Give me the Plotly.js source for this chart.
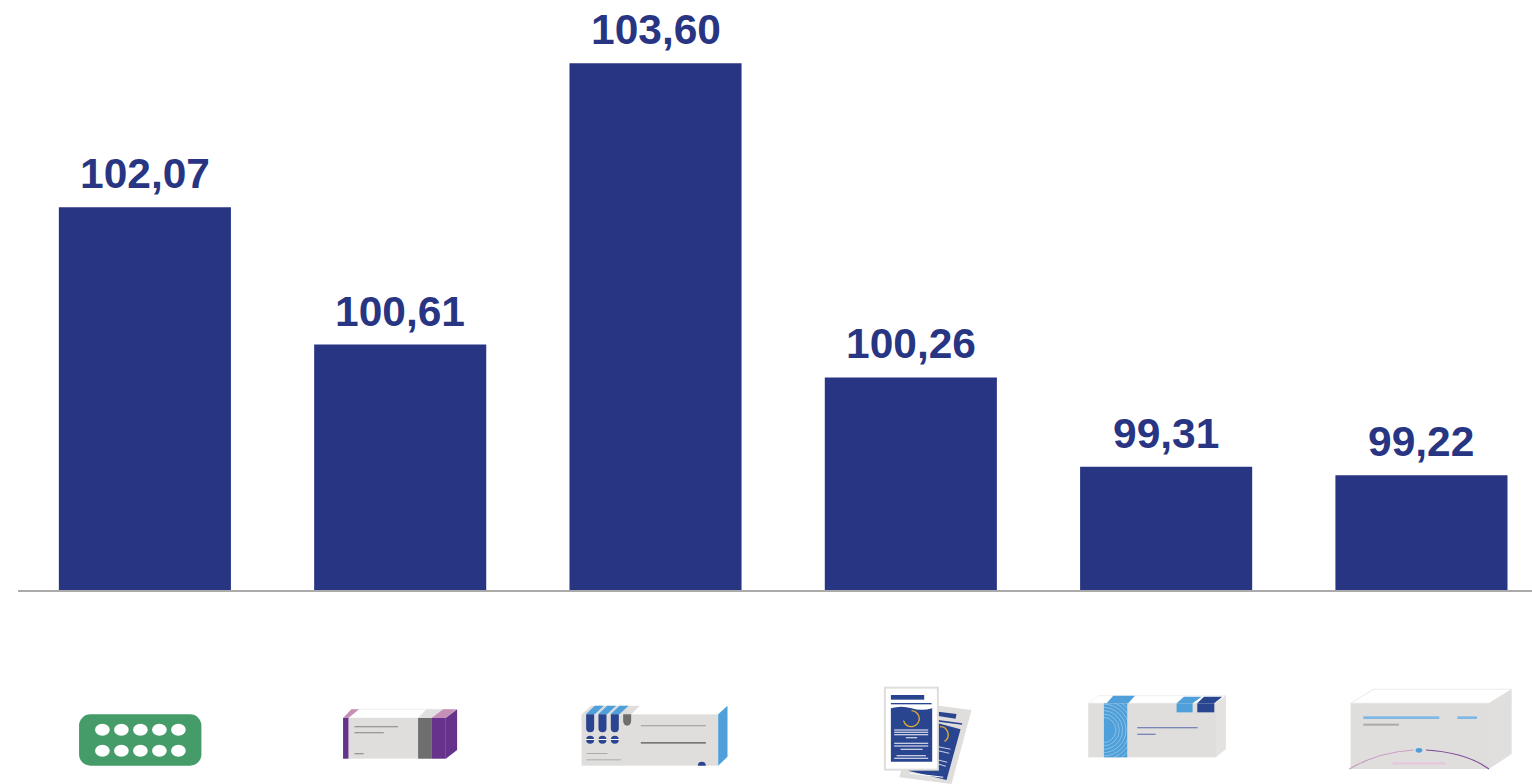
<!DOCTYPE html>
<html><head><meta charset="utf-8">
<script src="https://cdn.plot.ly/plotly-3.0.1.min.js"></script>
<style>html,body{margin:0;padding:0;background:#fff;overflow:hidden}</style>
</head><body><div id="chart" style="width:1532px;height:784px"></div>
<script>
const categories = ["Produit 1","Produit 2","Produit 3","Produit 4","Produit 5","Produit 6"];
const values = [102.07,100.61,103.60,100.26,99.31,99.22];
const labels = values.map(v => v.toFixed(2).replace('.',','));
const BLUE = '#283583';

const GREY='#dfdedc', DK='#2a4590', LB='#4fa0da';
function iconGroup(ox, oy, body){ return `<g transform="translate(${ox},${oy}) scale(0.33333)">${body}</g>`; }
function r(x,y,w,h,f,extra){ return `<rect x="${x}" y="${y}" width="${w}" height="${h}" fill="${f}" ${extra||''}/>`; }
function p(pts,f,extra){ return `<polygon points="${pts}" fill="${f}" ${extra||''}/>`; }
function lines(arr,c,h){ return arr.map(a=>r(a[0],a[1],a[2]-a[0],h,c)).join(''); }

// blister
let b1 = `<rect x="58" y="103" width="367" height="154" rx="34" fill="#459c69"/>`;
[128,185,242,299,356].forEach(x=>{[149,212].forEach(y=>{b1+=`<ellipse cx="${x}" cy="${y}" rx="22" ry="18" fill="#fff"/>`;});});
// purple box
b1 += p('850,114 875,88 1190,88 1158,114','#fff','stroke="#e8e8e8" stroke-width="2"')
 + p('850,114 875,88 898,88 866,114','#c490b8')
 + p('1075,114 1100,88 1150,88 1115,114','#e0e0e0')
 + p('1115,114 1150,88 1190,88 1158,114','#c490b8')
 + r(850,114,308,122,GREY) + r(850,114,16,122,'#66318c') + r(1075,114,40,122,'#6e6e6e') + r(1115,114,43,122,'#66318c')
 + p('1158,114 1192,88 1192,210 1158,236','#66318c')
 + lines([[884,138,1015],[884,156,972],[884,219,912]],'#999',4);

// blue-striped box
let b2 = p('65,103 95,77 503,77 475,103','#fff')
 + p('65,103 95,77 240,77 215,103',GREY)
 + r(65,103,410,154,GREY)
 + p('475,103 503,77 503,230 475,257',LB);
[[78,105],[115,142],[152,179]].forEach(a=>{ b2 += p(`${a[0]},103 ${a[1]},77 ${a[1]+27},77 ${a[0]+27},103`,LB); });
[79,116,153].forEach(x=>{
  b2 += `<path d="M${x} 103 h24 v42 a12 12 0 0 1 -24 0 z" fill="${DK}"/>`;
  b2 += `<circle cx="${x+12}" cy="179" r="12" fill="${DK}"/>` + r(x-1,177,26,3,'#fff');
});
b2 += `<path d="M190 103 h24 v20 a12 14 0 0 1 -24 0 z" fill="#6e6e6e"/>`
 + r(243,135,195,4,'#aaa') + r(243,186,195,5,'#777') + r(80,219,63,3,'#aaa') + r(80,238,103,3,'#aaa')
 + `<path d="M414 257 a12 12 0 0 1 24 0 z" fill="${DK}"/>`;
// leaflets
let b2b = p('1080,70 1235,90 1175,312 1018,292',GREY)
 + p('1135,130 1202,148 1160,300 1045,272',DK)
 + p('1135,95 1190,102 1187,116 1135,108',DK)
 + p('1135,120 1207,130 1206,134 1135,125',DK)
 + `<path d="M1140 140 a24 24 0 0 1 14 44" fill="none" stroke="#e4ac2c" stroke-width="4"/>`;
[[1135,200,1172,208],[1135,212,1168,220],[1135,240,1162,247],[1135,252,1158,259]].forEach(a=>{
  b2b += `<line x1="${a[0]}" y1="${a[1]}" x2="${a[2]}" y2="${a[3]}" stroke="#c5cce3" stroke-width="3"/>`;
});
b2b += `<line x1="1050" y1="280" x2="1150" y2="292" stroke="#fff" stroke-width="3"/>`;
b2b += r(972,20,165,252,GREY) + r(978,26,153,240,'#fff')
 + r(993,45,100,14,DK) + r(993,69,122,4,DK)
 + `<path d="M993 85 Q1025 76 1055 85 T1117 85 V245 H993 Z" fill="${DK}"/>`
 + `<path d="M1055 92 a24 24 0 1 1 -24 30" fill="none" stroke="#e4ac2c" stroke-width="4"/>`
 + lines([[1003,148,1105],[1003,155,1105],[1003,162,1105],[1038,171,1072],[1003,188,1105],[1003,196,1105],[1022,206,1088],[1010,225,1098],[1003,233,1105]],'#c5cce3',4);

// band box
let b3 = p('55,70 85,47 468,47 438,70','#fff','stroke="#e8e8e8" stroke-width="2"')
 + r(55,70,383,162,GREY)
 + p('438,70 468,47 468,207 438,232','#e3e2e1')
 + r(102,70,70,162,LB)
 + p('110,70 130,47 195,47 175,70',LB)
 + r(320,70,48,27,LB) + p('320,70 342,50 395,50 368,70',LB)
 + r(382,70,51,27,DK) + p('382,70 402,50 457,50 433,70',DK)
 + r(202,141,181,4,'#7a86b8') + r(202,161,55,4,'#7a86b8');
[38,48,58,68,78,88,98].forEach(rad=>{
  b3 += `<circle cx="100" cy="150" r="${rad}" fill="none" stroke="#fff" stroke-opacity="0.55" stroke-width="1.8" clip-path="url(#band)"/>`;
});
// white box
let b4 = p('842,70 910,28 1325,28 1257,70','#fff','stroke="#ececec" stroke-width="3"')
 + r(842,70,415,197,GREY)
 + p('1257,70 1325,28 1325,222 1257,267','#e0dfde')
 + r(880,109,228,8,'#7db8e6') + r(1162,109,59,8,'#7db8e6') + r(880,131,107,6,'#aaa')
 + `<path d="M838 267 Q920 218 1030 210" fill="none" stroke="#c79ac0" stroke-width="3"/>`
 + `<path d="M1068 210 Q1190 218 1257 267" fill="none" stroke="#7c4a9c" stroke-width="3"/>`
 + `<ellipse cx="1047" cy="211" rx="10" ry="7" fill="${LB}"/>`
 + r(968,246,159,8,'#e6c9dc');

const svg = `<svg xmlns="http://www.w3.org/2000/svg" width="1532" height="784" viewBox="0 0 1532 784"><defs><filter id="s" x="-5%" y="-5%" width="110%" height="110%"><feGaussianBlur stdDeviation="0.6"/></filter><clipPath id="band"><rect x="102" y="70" width="70" height="162"/></clipPath></defs><g filter="url(#s)">`
 + iconGroup(60,680,b1) + iconGroup(560,680,b2+b2b) + iconGroup(1070,680,b3+b4) + `</g></svg>`;
const uri = 'data:image/svg+xml;base64,' + btoa(svg);

const L=18.3, T=0, W=1513.7, H=590;
Plotly.newPlot('chart',[{
  type:'bar', x:categories, y:values,
  marker:{color:BLUE,line:{width:0}}, cliponaxis:false, hoverinfo:'skip', width:0.674
}],{
  width:1532,height:784,showlegend:false,
  margin:{l:L,r:0,t:T,b:784-T-H,pad:0},
  paper_bgcolor:'#fff',plot_bgcolor:'#fff',
  xaxis:{type:'category',range:[-0.497,5.433],showticklabels:false,ticks:'',showline:true,linecolor:'#aaaaaa',linewidth:1.5,showgrid:false,zeroline:false,fixedrange:true},
  yaxis:{range:[98,104.273],visible:false,showgrid:false,zeroline:false,fixedrange:true},
  annotations:categories.map((c,i)=>({
    x:c,y:values[i],xref:'x',yref:'y',text:labels[i],showarrow:false,yanchor:'bottom',xanchor:'center',yshift:8,
    font:{family:'Liberation Sans, Arial, sans-serif',size:42.5,color:BLUE,weight:700}
  })),
  images:[{source:uri,xref:'paper',yref:'paper',x:-L/W,y:1,sizex:1532/W,sizey:784/H,xanchor:'left',yanchor:'top',sizing:'stretch',layer:'above'}]
},{displayModeBar:false,staticPlot:true});
</script></body></html>
